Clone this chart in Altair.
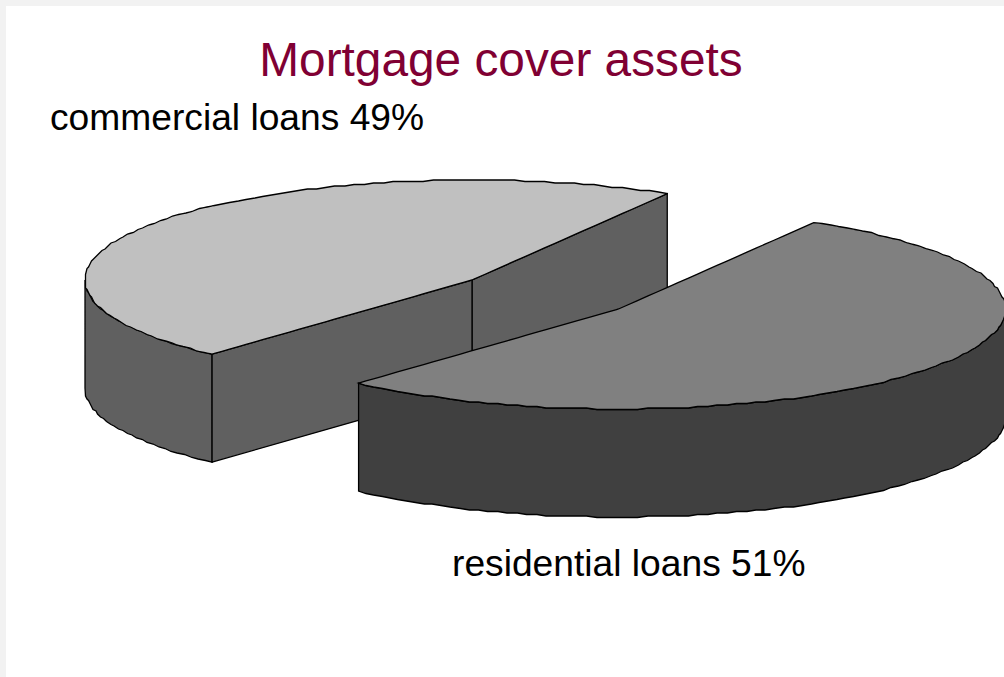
import numpy as np
import pandas as pd
import altair as alt

# Chart content
TITLE = "Mortgage cover assets"
categories = ["commercial loans", "residential loans"]
shares = [49, 51]

# Pie geometry, in canvas units
LEFT, TOP, RIGHT, BOTTOM = 6, 6, 1004, 677
centres = [(472.0, 280.0), (618.5, 309.0)]
radii_x = [387.0, 387.0]
RADIUS_Y = 100.0
DEPTH = 108.0
START_ANGLE = 55.55
SKEW, SKEW_PHASE = 4.15, -34.45
GRID = 1.5

top_fill = ["#c0c0c0", "#808080"]
side_fill = ["#606060", "#404040"]


def screen_angle(phi):
    # Oblique view: true slice angles are slightly skewed on the drawn ellipse.
    return phi + SKEW * np.sin(np.radians(phi - SKEW_PHASE))


def arc(slice_i, t0, t1, drop=0.0):
    cx, cy = centres[slice_i]
    ts = np.radians(np.arange(t0, t1, 1.5).tolist() + [t1])
    xs = cx + radii_x[slice_i] * np.cos(ts)
    ys = cy - RADIUS_Y * np.sin(ts) + drop
    # Outline vertices snap to a coarse device grid
    inner = np.arange(1, len(ts) - 1)
    xs[inner] = np.round(xs[inner] / GRID) * GRID
    ys[inner] = np.round(ys[inner] / GRID) * GRID
    return list(zip(xs, ys))


def band(points):
    # Turn a closed outline into x / upper / lower rows for an area mark.
    pts = np.array(points)
    grid = np.unique(np.round(pts[:, 0], 3))
    rows = []
    closed = np.vstack([pts, pts[:1]])
    for x in grid:
        hits = []
        for (x0, y0), (x1, y1) in zip(closed[:-1], closed[1:]):
            if min(x0, x1) - 1e-3 <= x <= max(x0, x1) + 1e-3:
                if abs(x1 - x0) < 1e-3:
                    hits += [y0, y1]
                else:
                    hits.append(y0 + (y1 - y0) * (x - x0) / (x1 - x0))
        rows.append({"x": float(x), "y": float(min(hits)), "y2": float(max(hits))})
    return pd.DataFrame(rows)


x_scale = alt.Scale(domain=[LEFT, RIGHT], range=[0, RIGHT - LEFT], nice=False, zero=False)
y_scale = alt.Scale(domain=[TOP, BOTTOM], range=[0, BOTTOM - TOP], nice=False, zero=False)


def face(points, fill):
    return alt.Chart(band(points)).mark_area(
        fill=fill, stroke="#000000", strokeWidth=1.3, strokeJoin="miter", opacity=1, interpolate="linear"
    ).encode(
        x=alt.X("x:Q", scale=x_scale, axis=None),
        y=alt.Y("y:Q", scale=y_scale, axis=None),
        y2="y2:Q",
    )


# Slice angles follow directly from the shares
sweep = 360.0 * shares[0] / sum(shares)
c0 = float(screen_angle(START_ANGLE))
c1 = float(screen_angle(START_ANGLE + sweep))
r1 = c0 + 360.0

apex0, apex1 = centres
edge_top0 = arc(0, c0, c0)[0]
edge_low0 = arc(0, c1, c1)[0]

layers = [
    # Commercial slice: outer wall, two cut faces, then the top
    face(arc(0, 180.0, c1) + arc(0, 180.0, c1, DEPTH)[::-1], side_fill[0]),
    face([edge_top0, apex0, (apex0[0], apex0[1] + DEPTH), (edge_top0[0], edge_top0[1] + DEPTH)], side_fill[0]),
    face([apex0, edge_low0, (edge_low0[0], edge_low0[1] + DEPTH), (apex0[0], apex0[1] + DEPTH)], side_fill[0]),
    face([apex0] + arc(0, c0, c1), top_fill[0]),
    # Residential slice: outer wall, then the top
    face(arc(1, c1, 360.0) + arc(1, c1, 360.0, DEPTH)[::-1], side_fill[1]),
    face([apex1] + arc(1, c1, r1), top_fill[1]),
]

label_rows = pd.DataFrame(
    {"label": [f"{c} {s}%" for c, s in zip(categories, shares)]}
)
label_style = dict(font="Liberation Sans", fontSize=37.2, color="#000000", align="left", baseline="alphabetic")
layers.append(
    alt.Chart(label_rows.iloc[[0]]).mark_text(**label_style).encode(
        x=alt.value(50 - LEFT), y=alt.value(130 - TOP), text="label:N"
    )
)
layers.append(
    alt.Chart(label_rows.iloc[[1]]).mark_text(**label_style).encode(
        x=alt.value(452 - LEFT), y=alt.value(576 - TOP), text="label:N"
    )
)

chart = (
    alt.layer(*layers)
    .properties(
        width=RIGHT - LEFT,
        height=BOTTOM - TOP,
        autosize=alt.AutoSizeParams(type="none"),
        padding={"left": LEFT, "top": TOP, "right": 0, "bottom": 0},
        background="#f2f2f2",
        title=alt.TitleParams(
            TITLE,
            font="Liberation Sans",
            fontSize=47.8,
            fontWeight="normal",
            color="#800033",
            anchor="start",
            align="center",
            baseline="alphabetic",
            dx=495,
            dy=118,
            offset=0,
        ),
    )
    .configure_view(fill="#ffffff", stroke=None)
)

chart.save("out.html", embed_options={"renderer": "svg", "actions": False})
